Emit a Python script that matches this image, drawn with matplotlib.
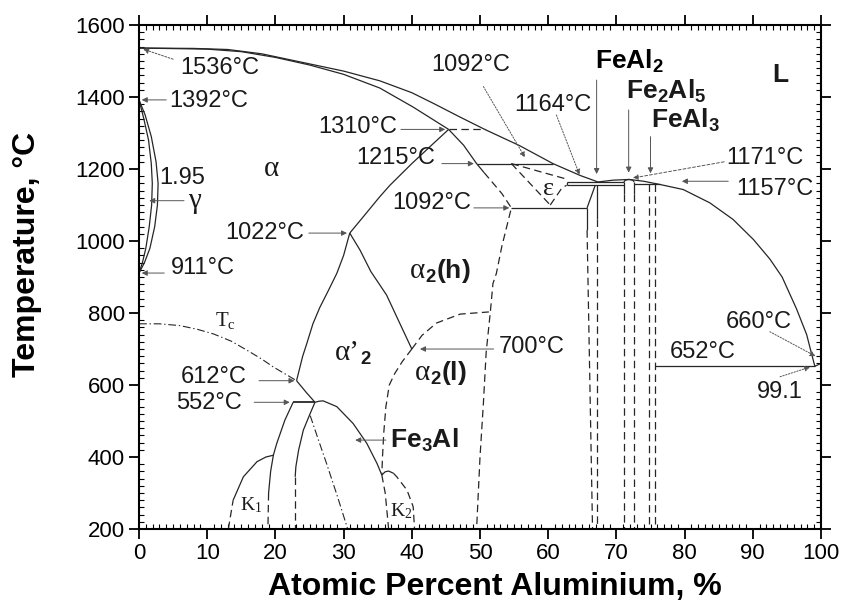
import matplotlib.pyplot as plt
from matplotlib.ticker import MultipleLocator

plt.rcParams['font.family'] = ['Liberation Sans', 'DejaVu Sans']
plt.rcParams['mathtext.default'] = 'regular'

# Invariant temperatures, °C
T_fe_melt = 1536
T_a4 = 1392
T_a3 = 911
T_peri = 1310
T_eps = 1215
T_eutectoid = 1092
T_b2 = 1022
T_feal2 = 1164
T_feal2_low = 1155
T_fe2al5 = 1171
T_feal3 = 1157
T_eut_al = 652
T_al_melt = 660
T_tc = 612
T_d03 = 552
T_a2 = 700
x_eut_al = 99.1
x_gamma = 1.95

# Phase boundaries as (at.% Al, T)
liquidus = [(0, T_fe_melt), (8, 1535), (13, 1532), (18, 1520), (23, 1500), (30, 1472),
            (35.3, 1445), (40, 1412), (43.2, 1382), (47, 1345), (50.7, T_peri),
            (55.8, 1265), (60.7, T_eps), (64.7, 1182), (67.3, T_feal2),
            (69.5, 1169), (71.85, T_fe2al5), (74, 1166), (76.4, T_feal3),
            (79.8, 1143), (83.7, 1106), (87.1, 1060), (90.1, 1004), (92.5, 950),
            (94.3, 900), (96.4, 812), (97.9, 740), (98.6, 688), (x_eut_al, T_eut_al)]
al_end = [(x_eut_al, T_eut_al), (100, T_al_melt)]
solidus = [(0, T_fe_melt), (10, 1533), (15, 1526), (20, 1510), (25, 1489), (30, 1463),
           (35.3, 1425), (40.2, 1372), (45.4, T_peri)]
gamma_outer = [(0, T_a4), (0.9, 1350), (1.8, 1290), (2.5, 1220), (2.8, 1160), (2.7, 1100),
               (2.3, 1040), (1.6, 980), (0.8, 940), (0, T_a3)]
gamma_inner = [(0, T_a4), (0.7, 1340), (1.4, 1280), (1.8, 1215), (x_gamma, 1160),
               (1.85, 1100), (1.5, 1040), (1.0, 980), (0.5, 940), (0, T_a3)]
b2_line = [(30.9, T_b2), (33, 1070), (35.3, 1123), (36.8, 1155), (40, 1215),
           (43, 1268), (45.4, T_peri)]
a2_top = [(45.4, T_peri), (47.6, 1266), (49.5, T_eps), (50.6, 1190)]
a2_right = [(50.6, 1190), (51.5, 1170), (53.2, 1132), (54.6, T_eutectoid), (53.2, 985),
            (52.4, 910), (51.9, 882), (51.5, 800), (50.9, 690), (50.5, 550), (50.0, 400),
            (49.5, 200)]
a2h_a2p = [(30.9, T_b2), (32.4, 975), (34, 915), (36.3, 850), (38, 781), (40, T_a2)]
a2p_left = [(23.1, T_tc), (24, 680), (24.6, 715), (25.5, 770), (26.5, 815), (27.7, 860),
            (29, 910), (30, 960), (30.9, T_b2)]
a2h_a2l = [(40, T_a2), (41.5, 738), (43.6, 772), (47.1, 797), (51.3, 803)]
a2l_left = [(40, T_a2), (38.6, 665), (37.5, 632), (36.7, 600), (36.2, 540), (35.9, 470),
            (35.7, 400), (35.6, 350)]
tc_upper = [(0, 770), (3, 770), (6, 765), (8.5, 755), (10.9, 742), (13.5, 722),
            (15.8, 697), (18, 672), (19.7, 650), (21.5, 630), (23.1, T_tc)]
tc_lower = [(25.1, 515), (26.3, 448), (27.5, 382), (29, 296), (30.6, 200)]
tc_to_d03 = [(23.1, T_tc), (24.5, 580), (25.8, T_d03)]
fe3al_dome = [(25.8, T_d03), (26.4, 555), (27.0, 556), (29, 540), (31.4, 493),
              (33.4, 438), (34.9, 382), (35.6, 350)]
fe3al_left = [(25.8, T_d03), (25.1, 521), (24.1, 475), (23.4, 419), (23.0, 373), (22.9, 345)]
fe3al_left_lo = [(22.9, 345), (22.9, 200)]
alpha_left = [(22.6, T_d03), (21.4, 503), (20.2, 438), (19.7, 405), (19.3, 360), (19.0, 300)]
alpha_left_lo = [(19.0, 300), (18.9, 200)]
k1_top = [(13.8, 280), (15.3, 345), (17.3, 387), (18.6, 400), (19.7, 405)]
k1_lo = [(13.1, 200), (13.8, 280)]
k2_top = [(35.6, 350), (36.1, 359), (36.6, 361), (37.3, 355)]
k2_lo = [(37.3, 355), (37.8, 345), (39.3, 308), (40.2, 262), (40.4, 200)]
fe3al_right_lo = [(35.6, 350), (36.1, 300), (36.6, 200)]
eps_left = [(54.6, T_eps), (60.3, 1100)]
eps_right = [(60.3, 1100), (62.0, 1147), (62.7, T_feal2_low)]
eps_top = [(54.6, T_eps), (62.7, 1172)]
feal2_slant = [(65.7, T_eutectoid), (66.9, T_feal2_low)]
feal2_left = [(65.7, T_eutectoid), (65.7, 1030)]
feal2_left_lo = [(65.7, 1030), (66.5, 200)]
feal2_right = [(67.1, T_feal2_low), (67.1, 1060)]
feal2_right_lo = [(67.1, 1060), (67.1, 200)]
fe2al5_dome = [(71.1, T_feal2), (71.3, 1169), (71.85, T_fe2al5), (72.4, 1169), (72.6, T_feal2)]
fe2al5_x = [71.1, 72.6]
feal3_x = [74.8, 75.6]

# horizontal invariants: (T, x from, x to, style)
isotherms = [(T_peri, 45.4, 50.7, 'dash'), (T_eps, 49.5, 60.7, 'solid'),
             (T_eutectoid, 54.6, 65.7, 'solid'), (T_feal2, 62.7, 71.1, 'solid'),
             (T_feal2_low, 62.7, 71.1, 'solid'), (T_feal3, 72.6, 76.4, 'solid'),
             (T_eut_al, 75.6, x_eut_al, 'solid'), (T_d03, 22.6, 25.8, 'solid')]

ink = '#262626'
dash = (0, (6, 3.5))
dashdot = (0, (7, 2.5, 1.2, 2.5))

fig = plt.figure(figsize=(8.43, 6.13), dpi=100)
ax = fig.add_axes([0.1649, 0.1370, 0.8090, 0.8222])


def curve(pts, ls='-', lw=0.9):
    xs, ts = zip(*pts)
    ax.plot(xs, ts, color=ink, lw=lw, ls=ls, solid_capstyle='butt')


for pts in [liquidus, al_end, solidus, gamma_outer, gamma_inner, b2_line, a2_top,
            a2h_a2p, a2p_left, tc_to_d03, fe3al_dome, fe3al_left, alpha_left, k1_top,
            k2_top, feal2_slant, feal2_left, feal2_right, fe2al5_dome]:
    curve(pts)
for pts in [a2_right, a2h_a2l, a2l_left, fe3al_left_lo, alpha_left_lo, k1_lo, k2_lo,
            fe3al_right_lo, eps_left, eps_right, eps_top, feal2_left_lo, feal2_right_lo]:
    curve(pts, ls=dash)
for pts in [tc_upper, tc_lower]:
    curve(pts, ls=dashdot, lw=0.8)

for T, x0, x1, style in isotherms:
    curve([(x0, T), (x1, T)], ls='-' if style == 'solid' else dash,
          lw=1.3 if T == T_d03 else 0.9)
curve([(62.7, T_feal2_low), (62.7, T_feal2)])

for xv in fe2al5_x:
    curve([(xv, T_feal2), (xv, 1130)])
    curve([(xv, 1130), (xv, 200)], ls=dash)
curve([(feal3_x[0], T_feal3), (feal3_x[0], 200)], ls=dash)
curve([(feal3_x[1], T_feal3), (feal3_x[1], 200)], ls=dash)


def pointer(start, end, ls='-'):
    ax.annotate('', xy=end, xytext=start,
                arrowprops=dict(arrowstyle='-|>', color='#555555', lw=0.7, ls=ls,
                                mutation_scale=8, shrinkA=0, shrinkB=0))


def label(x, y, s, size=17, **kw):
    ax.text(x, y, s, ha='center', va='center', fontsize=size, color='#1a1a1a', **kw)


# temperature call-outs
label(11.9, 1480, f'{T_fe_melt}°C')
pointer((5.0, 1505), (0.6, T_fe_melt - 3), ls=(0, (2, 1.5)))
label(10.2, 1390, f'{T_a4}°C')
pointer((4.0, T_a4), (0.4, T_a4))
label(6.3, 1175, f'{x_gamma}')
label(9.4, 925, f'{T_a3}°C')
pointer((3.7, T_a3), (0.4, T_a3))
label(18.4, T_b2, f'{T_b2}°C')
pointer((24.9, T_b2), (30.5, T_b2))
label(32.0, 1318, f'{T_peri}°C')
pointer((38.4, T_peri), (44.9, T_peri))
label(37.7, 1230, f'{T_eps}°C')
pointer((44.4, T_eps), (49.1, T_eps))
label(42.9, 1105, f'{T_eutectoid}°C')
pointer((49.1, T_eutectoid), (54.3, T_eutectoid))
label(48.7, 1489, f'{T_eutectoid}°C')
pointer((50.5, 1429), (56.6, 1232), ls=(0, (1.5, 1.5)))
label(60.7, 1378, f'{T_feal2}°C')
pointer((61.2, 1350), (64.6, 1184), ls=(0, (1.5, 1.5)))
label(91.8, 1230, f'{T_fe2al5}°C')
pointer((85.8, 1220), (72.4, 1175), ls=(0, (3, 2)))
label(93.3, 1144, f'{T_feal3}°C')
pointer((86.4, 1166), (79.6, 1166))
label(57.6, 706, f'{T_a2}°C')
pointer((52.0, T_a2), (41.2, T_a2))
label(90.9, 776, f'{T_al_melt}°C')
pointer((92.5, 748), (99.2, 680), ls=(0, (1.5, 1.5)))
label(82.6, 692, f'{T_eut_al}°C')
label(93.9, 581, f'{x_eut_al}')
pointer((94.0, 623), (98.4, 650), ls=(0, (1.5, 1.5)))
label(11.0, 623, f'{T_tc}°C')
pointer((17.6, T_tc), (22.8, T_tc))
label(10.3, 549, f'{T_d03}°C')
pointer((16.9, T_d03), (22.1, T_d03))

# phase names
ax.text(66.9, 1500, 'FeAl$_2$', ha='left', va='center', fontsize=19, fontweight='bold')
pointer((67.1, 1447), (67.1, 1186))
label(77.3, 1415, 'Fe$_2$Al$_5$', size=19, fontweight='bold')
pointer((71.8, 1364), (71.8, 1190))
label(80.1, 1336, 'FeAl$_3$', size=19, fontweight='bold')
pointer((75.0, 1290), (75.0, 1188))
label(94.1, 1461, 'L', size=19, fontweight='bold')
label(41.9, 447, 'Fe$_3$Al', size=19, fontweight='bold')
pointer((36.2, 447), (31.7, 447))

serif = ['Liberation Serif', 'DejaVu Serif']
label(19.5, 1200, 'α', size=21, family=serif)
label(8.2, 1112, 'γ', size=21, family=serif)
pointer((6.6, 1112), (1.5, 1112))
label(60.0, 1145, 'ε', size=19, family=serif)
label(12.7, 778, 'T$_c$', size=15, family=serif)
label(16.5, 267, 'K$_1$', size=14, family=serif)
label(38.4, 250, 'K$_2$', size=14, family=serif)

for x0, y0, head, tail in [(42.0, 897, 'α', '$_2$(h)'), (42.7, 614, 'α', '$_2$(l)'),
                           (32.4, 669, 'α’', '$_2$')]:
    ax.text(x0, y0, head, ha='right', va='baseline', fontsize=21, family=serif,
            color='#1a1a1a')
    ax.text(x0, y0, tail, ha='left', va='baseline', fontsize=19, fontweight='bold',
            color='#1a1a1a')

ax.set_xlim(0, 100)
ax.set_ylim(200, 1600)
ax.set_xticks(range(0, 101, 10))
ax.set_yticks(range(200, 1601, 200))
ax.xaxis.set_minor_locator(MultipleLocator(1))
ax.yaxis.set_minor_locator(MultipleLocator(20))
ax.tick_params(which='both', top=True, right=True)
ax.tick_params(which='major', direction='out', length=7, width=1.3, labelsize=16, pad=3)
ax.tick_params(which='minor', direction='in', length=3.5, width=0.8)
for s in ax.spines.values():
    s.set_linewidth(1.5)

ax.set_xlabel('Atomic Percent Aluminium, %', fontsize=23, fontweight='bold')
ax.set_ylabel('Temperature, °C', fontsize=23, fontweight='bold')
ax.xaxis.set_label_coords(0.522, -0.086)
ax.yaxis.set_label_coords(-0.142, 0.544)

fig.savefig('out.png', dpi=100)
